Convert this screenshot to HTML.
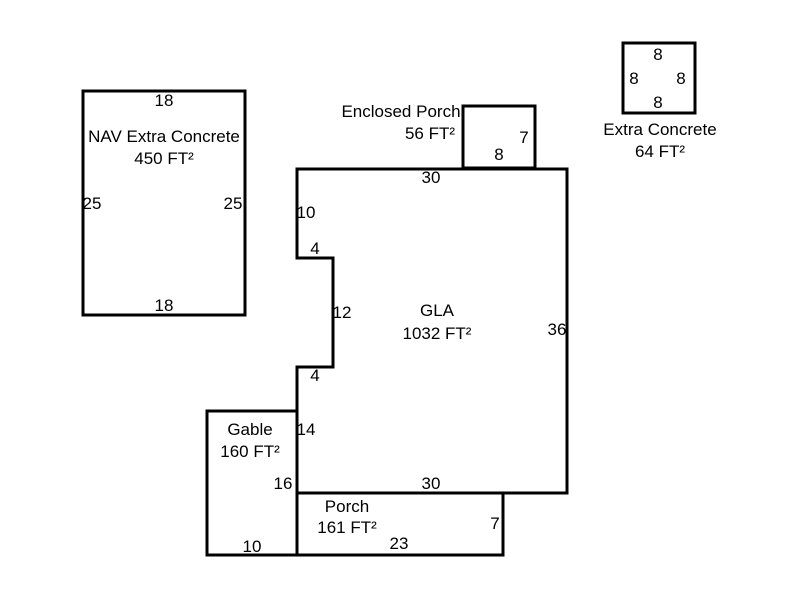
<!DOCTYPE html>
<html><head><style>body{margin:0;background:#fff}svg{display:block}text{font-family:"Liberation Sans",Arial,sans-serif;font-size:17px;fill:#000}</style></head>
<body>
<svg width="800" height="600" viewBox="0 0 800 600">
<g fill="none" stroke="#000" stroke-width="3">
<rect x="83" y="91" width="162" height="224"/>
<rect x="463" y="106" width="72" height="62"/>
<rect x="623" y="43" width="72" height="70"/>
<polygon points="297,169 567,169 567,493 297,493 297,367 333,367 333,258 297,258"/>
<rect x="207" y="411" width="90" height="144"/>
<rect x="297" y="493" width="206" height="62"/>
</g>
<g text-anchor="middle">
<text x="164" y="106">18</text>
<text x="164" y="142">NAV Extra Concrete</text>
<text x="164" y="164">450 FT²</text>
<text x="92" y="209">25</text>
<text x="233" y="209">25</text>
<text x="164" y="311">18</text>
<text x="401" y="117">Enclosed Porch</text>
<text x="430" y="139">56 FT²</text>
<text x="524" y="143">7</text>
<text x="499" y="160">8</text>
<text x="658" y="60">8</text>
<text x="634" y="84">8</text>
<text x="681" y="84">8</text>
<text x="658" y="108">8</text>
<text x="660" y="135">Extra Concrete</text>
<text x="660" y="157">64 FT²</text>
<text x="431" y="183">30</text>
<text x="306" y="218">10</text>
<text x="315" y="254">4</text>
<text x="342" y="318">12</text>
<text x="437" y="316">GLA</text>
<text x="437" y="339">1032 FT²</text>
<text x="557" y="335">36</text>
<text x="315" y="381">4</text>
<text x="306" y="435">14</text>
<text x="250" y="435">Gable</text>
<text x="250" y="457">160 FT²</text>
<text x="283" y="489">16</text>
<text x="431" y="489">30</text>
<text x="347" y="512">Porch</text>
<text x="347" y="533">161 FT²</text>
<text x="495" y="529">7</text>
<text x="399" y="549">23</text>
<text x="252" y="552">10</text>
</g>
</svg>
</body></html>
